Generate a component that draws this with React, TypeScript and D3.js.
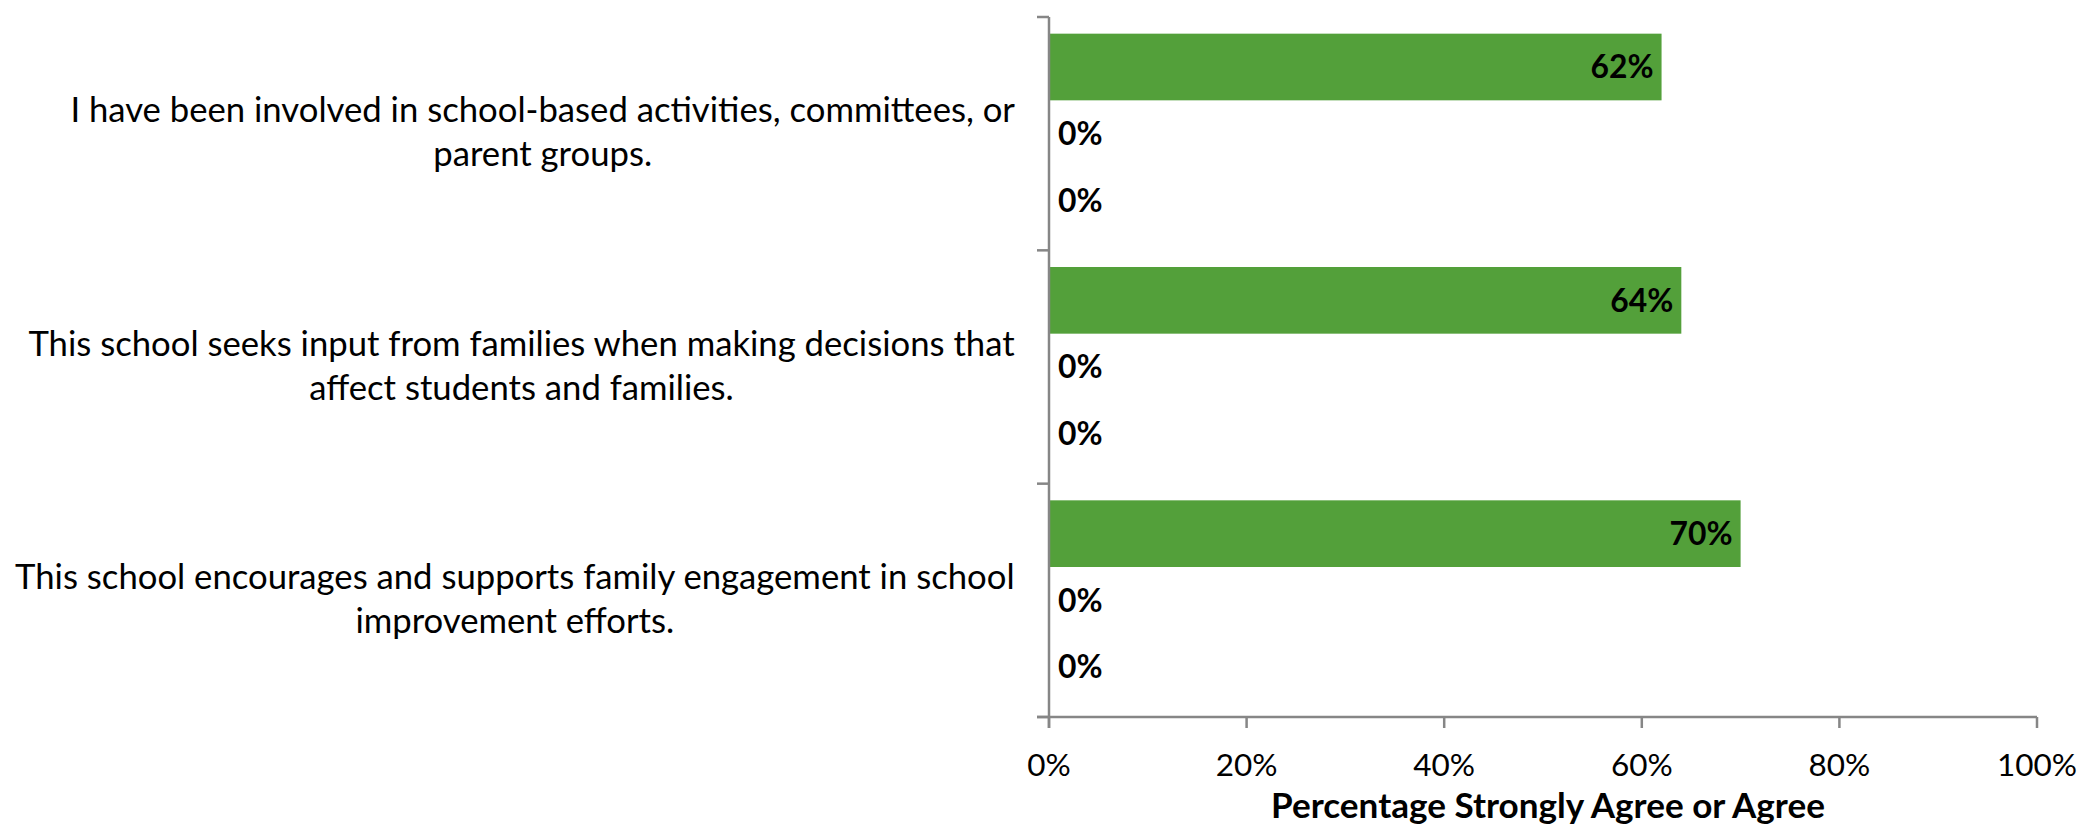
import React, { useMemo, useEffect } from "react";
import * as d3 from "d3";

// ---- data ----
const categoryLines: string[][] = [
  ["I have been involved in school-based activities, committees, or", "parent groups."],
  ["This school seeks input from families when making decisions that", "affect students and families."],
  ["This school encourages and supports family engagement in school", "improvement efforts."],
];
const seriesKeys = ["Current", "Prior1", "Prior2"];
const currentValues = [62, 64, 70];
const prior1Values = [0, 0, 0];
const prior2Values = [0, 0, 0];
const xTickValues = [0, 20, 40, 60, 80, 100];
const xAxisTitle = "Percentage Strongly Agree or Agree";

const W = 2099;
const H = 829;
const FONT = "Lato";
const BAR_COLOR = "#53a03a";
const AXIS_COLOR = "#868686";

function measure(text: string, weight: number, size: number): number {
  const ctx = document.createElement("canvas").getContext("2d");
  if (!ctx) return text.length * size * 0.5;
  ctx.font = `${weight} ${size}px ${FONT}`;
  return ctx.measureText(text).width;
}

export default function App() {
  useEffect(() => {
    document.body.style.margin = "0";
  }, []);

  const margin = { left: 1049, right: W - 2037, top: 17, bottom: H - 717 };
  const x = d3.scaleLinear().domain([0, 100]).range([margin.left, W - margin.right]);
  const catIdx = categoryLines.map((_, i) => String(i));
  const y = d3.scaleBand<string>().domain(catIdx).range([margin.top, H - margin.bottom]).padding(0);
  const ys = d3
    .scaleBand<string>()
    .domain(seriesKeys)
    .range([0, y.bandwidth()])
    .paddingInner(0)
    .paddingOuter(0.25);

  const seriesValues: Record<string, number[]> = {
    Current: currentValues,
    Prior1: prior1Values,
    Prior2: prior2Values,
  };

  const sizes = useMemo(() => {
    const cat = (32 * 945) / measure(categoryLines[0][0], 400, 32);
    const tick = (34 * 80) / measure("100%", 400, 34);
    const title = (34 * 558) / measure(xAxisTitle, 700, 34);
    const label = (36 * 63) / measure("62%", 700, 36);
    return { cat, tick, title, label };
  }, []);

  const labelRight = 1015;
  const lineH = 44;
  const y0 = H - margin.bottom;

  return (
    <svg width={W} height={H} style={{ position: "absolute", left: 0, top: 0, background: "#fff" }} fontFamily={FONT}>
      <rect x={0} y={0} width={W} height={H} fill="#fff" />
      {/* bars */}
      {categoryLines.map((_, ci) =>
        seriesKeys.map((k) => {
          const v = seriesValues[k][ci];
          const by = (y(String(ci)) as number) + (ys(k) as number);
          const bh = ys.bandwidth();
          const bw = x(v) - x(0);
          const cy = by + bh / 2;
          const lbl = `${v}%`;
          const lw = measure(lbl, 700, sizes.label);
          const inside = bw > lw + 16;
          return (
            <g key={`${ci}-${k}`}>
              {v > 0 && <rect x={x(0)} y={by} width={bw} height={bh} fill={BAR_COLOR} />}
              <text
                x={inside ? x(v) - 8 : x(0) + 9}
                y={cy + sizes.label * 0.36}
                textAnchor={inside ? "end" : "start"}
                fontWeight={700}
                fontSize={sizes.label}
                fill="#000"
              >
                {lbl}
              </text>
            </g>
          );
        })
      )}
      {/* y axis */}
      <line x1={x(0)} x2={x(0)} y1={margin.top} y2={y0 + 11} stroke={AXIS_COLOR} strokeWidth={2.5} />
      {[...catIdx.map((c) => y(c) as number), y0].map((ty, i) => (
        <line key={`yt${i}`} x1={x(0) - 12} x2={x(0)} y1={ty} y2={ty} stroke={AXIS_COLOR} strokeWidth={2.5} />
      ))}
      {/* x axis */}
      <line x1={x(0) - 12} x2={x(100)} y1={y0} y2={y0} stroke={AXIS_COLOR} strokeWidth={2.5} />
      {xTickValues.map((t) => (
        <g key={`xt${t}`}>
          <line x1={x(t)} x2={x(t)} y1={y0} y2={y0 + 11} stroke={AXIS_COLOR} strokeWidth={2.5} />
          <text x={x(t)} y={776} textAnchor="middle" fontSize={sizes.tick} fill="#000">
            {`${t}%`}
          </text>
        </g>
      ))}
      <text x={(x(0) + x(100)) / 2 + 5} y={818} textAnchor="middle" fontSize={sizes.title} fontWeight={700} fill="#000">
        {xAxisTitle}
      </text>
      {/* category labels */}
      {categoryLines.map((lines, ci) => {
        const cy = (y(String(ci)) as number) + y.bandwidth() / 2;
        const maxW = Math.max(...lines.map((l) => measure(l, 400, sizes.cat)));
        const cx = labelRight - maxW / 2;
        return (
          <text key={`cl${ci}`} textAnchor="middle" fontSize={sizes.cat} fill="#000">
            {lines.map((l, li) => (
              <tspan key={li} x={cx} y={cy + (li - (lines.length - 1) / 2) * lineH + 10.5}>
                {l}
              </tspan>
            ))}
          </text>
        );
      })}
    </svg>
  );
}
